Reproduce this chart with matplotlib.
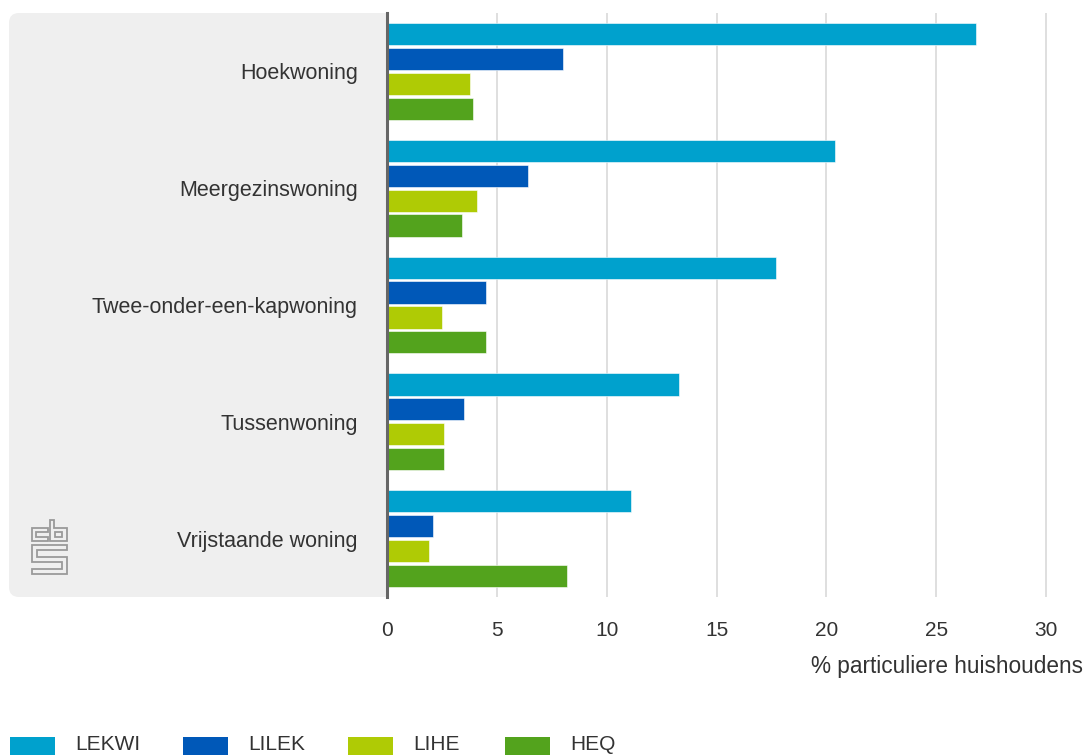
import matplotlib
matplotlib.use('Agg')
import matplotlib.pyplot as plt
import numpy as np
from matplotlib.patches import FancyBboxPatch, Rectangle, Polygon

# Data
woningtypes = ['Hoekwoning', 'Meergezinswoning', 'Twee-onder-een-kapwoning',
               'Tussenwoning', 'Vrijstaande woning']
reeksen = ['LEKWI', 'LILEK', 'LIHE', 'HEQ']
lekwi = [26.8, 20.4, 17.7, 13.3, 11.1]
lilek = [8.0, 6.4, 4.5, 3.5, 2.1]
lihe = [3.8, 4.1, 2.5, 2.6, 1.9]
heq = [3.9, 3.4, 4.5, 2.6, 8.2]
kleuren = ['#00a1cd', '#0058b8', '#afcb05', '#53a31d']
xticks = [0, 5, 10, 15, 20, 25, 30]

plt.rcParams['font.family'] = ['Liberation Sans', 'DejaVu Sans']

W, H = 1085, 755
fig = plt.figure(figsize=(W / 100, H / 100), dpi=100)

def px(x, y):
    # pixels vanaf linksboven -> inches
    return x / 100, (H - y) / 100

# grijs paneel achter de labels (rechts recht afgesneden)
x0, y0 = px(9, 597)
panel = FancyBboxPatch((x0 + 0.1, y0 + 0.1), (400 - 9) / 100 - 0.2, (597 - 13) / 100 - 0.2,
                       boxstyle='round,pad=0.1,rounding_size=0.1',
                       transform=fig.dpi_scale_trans, facecolor='#efefef',
                       edgecolor='none', zorder=-2)
fig.patches.append(panel)
wx, wy = px(388, 600)
fig.patches.append(Rectangle((wx, wy), 0.15, 6.0, transform=fig.dpi_scale_trans,
                             facecolor='white', edgecolor='none', zorder=-1))

# cbs logo (ongeveer)
logo = [
    [(32, 528), (48, 528), (48, 532), (36, 532), (36, 537), (48, 537), (48, 541), (32, 541)],
    [(50, 520), (54, 520), (54, 528), (67, 528), (67, 541), (50, 541)],
    [(55, 532), (62, 532), (62, 537), (55, 537)],
    [(32, 545), (67, 545), (67, 550), (37, 550), (37, 557), (67, 557), (67, 574), (32, 574),
     (32, 569), (62, 569), (62, 562), (32, 562)],
]
for vorm in logo:
    fig.patches.append(Polygon([px(a, b) for a, b in vorm], closed=True, fill=False,
                               edgecolor='#9a9a9a', lw=1.3, transform=fig.dpi_scale_trans,
                               zorder=-1))

ax = fig.add_axes([387 / W, 1 - 597 / H, 692 / W, 584 / H])
ax.set_facecolor('none')
ax.set_zorder(1)

waarden = [lekwi, lilek, lihe, heq]
y = np.arange(len(woningtypes))
offsets = [-0.32, -0.107, 0.107, 0.32]
for naam, vals, kleur, off in zip(reeksen, waarden, kleuren, offsets):
    ax.barh(y + off, vals, height=0.19, color=kleur, label=naam, zorder=3,
            edgecolor='white', linewidth=0.4)

ax.set_xlim(0, 31.5)
ax.set_ylim(4.5, -0.5)
ax.set_yticks(y)
ax.set_yticklabels(woningtypes)
ax.set_xticks(xticks)
ax.tick_params(axis='y', length=0, pad=21, labelsize=15.5, labelcolor='#333333')
ax.tick_params(axis='x', length=0, pad=17, labelsize=15, labelcolor='#333333')
ax.grid(axis='x', color='#d9d9d9', lw=1.2, zorder=0)
for s in ['top', 'right', 'bottom']:
    ax.spines[s].set_visible(False)
ax.spines['left'].set_color('#666666')
ax.spines['left'].set_linewidth(2.2)
ax.spines['left'].set_zorder(4)

fig.text(1083 / W, 1 - 666 / H, '% particuliere huishoudens', ha='right', va='center',
         fontsize=16.3, color='#333333')

# legenda (onderaan, deels buiten beeld zoals in het origineel)
leg_x = [10, 183, 348, 505]
for naam, kleur, lx in zip(reeksen, kleuren, leg_x):
    rx, ry = px(lx, 757)
    fig.patches.append(Rectangle((rx, ry), 0.45, 0.2, transform=fig.dpi_scale_trans,
                                 facecolor=kleur, edgecolor='none'))
    tx, ty = px(lx + 65, 744)
    fig.text(tx, ty, naam, transform=fig.dpi_scale_trans, ha='left', va='center',
             fontsize=15, color='#333333')

fig.savefig('out.png', dpi=100)
